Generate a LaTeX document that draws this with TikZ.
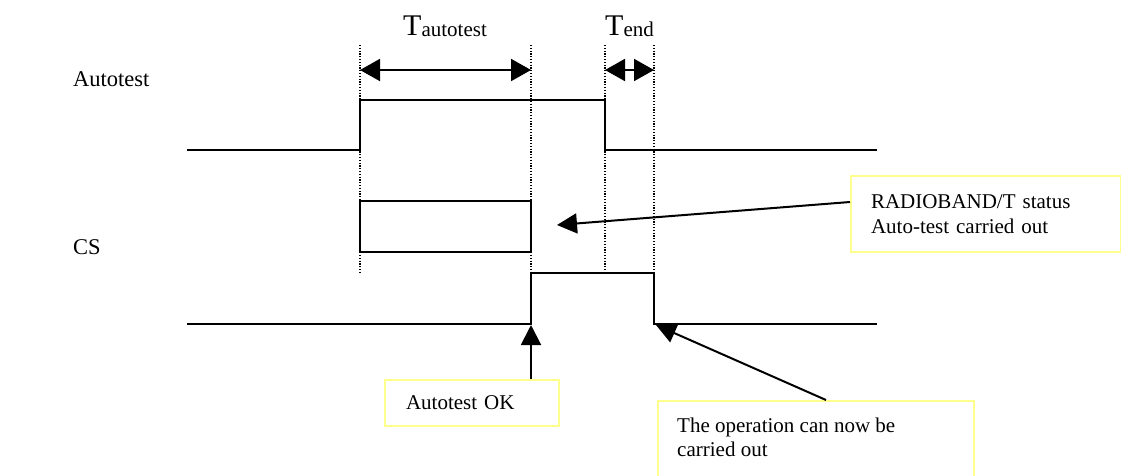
\documentclass[tikz,border=0pt]{standalone}
\usepackage{fontspec}
\setmainfont{Liberation Serif}
\usetikzlibrary{arrows.meta}
\definecolor{boxyellow}{RGB}{255,255,140}
\begin{document}
\begin{tikzpicture}[x=1pt,y=-1pt,
  sig/.style={line width=2pt, line join=miter},
  guide/.style={line width=1.2pt, dash pattern=on 1.2pt off 1.6pt},
  arr/.style={line width=2pt, -{Triangle[length=20pt,width=20pt]}},
  dblarr/.style={line width=2pt, {Triangle[length=20pt,width=22pt]}-{Triangle[length=20pt,width=22pt]}},
  big/.style={font=\fontsize{30}{34}\selectfont, inner sep=0pt, anchor=base west},
  sig label/.style={font=\fontsize{22.5}{26}\selectfont, inner sep=0pt, anchor=base west},
  ybox/.style={draw=boxyellow, line width=2pt, anchor=north west, align=left,
    font=\fontsize{21}{25}\selectfont, inner xsep=20pt, inner ysep=0pt},
  btext/.style={font=\fontsize{21}{24}\selectfont, inner sep=0pt, anchor=base west, align=left}]
\useasboundingbox (0,0) rectangle (1121,475);

% guide lines
\foreach \gx in {360,531,605,654} \draw[guide] (\gx,45) -- (\gx,273);

% Autotest signal
\draw[sig] (187,150) -- (360,150) -- (360,100) -- (605,100) -- (605,150) -- (877,150);
% status rectangle
\draw[sig] (360,201) rectangle (531,252);
% CS signal
\draw[sig] (187,324) -- (531,324) -- (531,273) -- (654,273) -- (654,324) -- (877,324);

\coordinate (csrise) at (531,325);
\coordinate (csfall) at (656,325);
\coordinate (rtip) at (557,225);
\coordinate (ta1) at (360,70);
\coordinate (ta2) at (531,70);
\coordinate (te1) at (605,70);
\coordinate (te2) at (654,70);

% timing arrows
\draw[dblarr] (ta1) -- (ta2);
\draw[dblarr] (te1) -- (te2);

% labels
\node[big] (tauto) at (403,35) {T{\fontsize{21}{21}\selectfont\raisebox{-1.5pt}{autotest}}};
\node[big] (tend) at (605,35) {T{\fontsize{21}{21}\selectfont\raisebox{-1.5pt}{end}}};
\node[sig label] (lauto) at (73,86) {Autotest};
\node[sig label] (lcs) at (73,254) {CS};

% boxes
\node[ybox, minimum width=270pt, minimum height=76pt, text width=230pt] (b1) at (850,175)
  {RADIOBAND/T status\\Auto-test carried out};
\node[ybox, minimum width=172pt, minimum height=46pt, text width=132pt, inner xsep=21pt] (b2) at (384,379)
  {Autotest OK};
\node[ybox, minimum width=316pt, minimum height=80pt] (b3) at (657,400) {};
\node[btext] (b3t) at (677,456) {The operation can now be\\carried out};

% callout arrows
\draw[arr] ([yshift=12pt]b1.west) -- (rtip);
\draw[arr] (b2.north -| csrise) -- (csrise);
\draw[arr] ([xshift=10pt]b3.north) -- (csfall);
\end{tikzpicture}
\end{document}
